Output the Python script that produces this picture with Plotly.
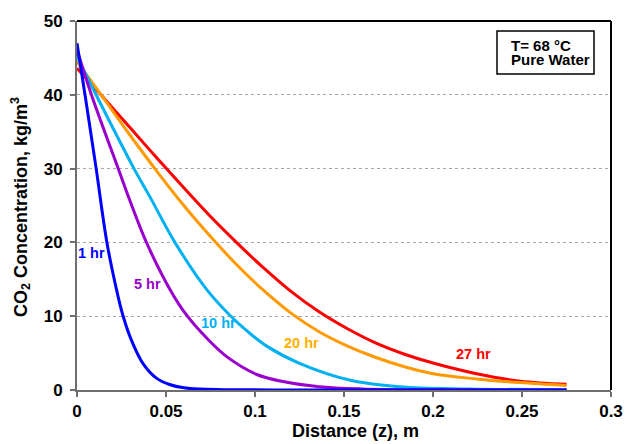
import plotly.graph_objects as go

# CO2 concentration profiles, distance z (m) vs concentration (kg/m3)
z_1hr = [0, 0.0045, 0.0107, 0.0168, 0.0222, 0.0258, 0.0305, 0.0370, 0.0448,
         0.0520, 0.0600, 0.0700, 0.0850, 0.110, 0.150, 0.200, 0.275]
c_1hr = [47.0, 40.0, 30.1, 20.0, 13.6, 10.1, 6.8, 3.62, 1.58,
         0.75, 0.30, 0.12, 0.04, 0.01, 0.0, 0.0, 0.0]

z_5hr = [0, 0.0081, 0.023, 0.0306, 0.039, 0.0523, 0.0617, 0.0738, 0.0841,
         0.101, 0.1157, 0.136, 0.160, 0.200, 0.275]
c_5hr = [46.1, 40.0, 30.1, 25.1, 20.0, 13.6, 10.1, 6.8, 4.52,
         2.1, 1.15, 0.45, 0.15, 0.03, 0.0]

z_10hr = [0, 0.0107, 0.0318, 0.0409, 0.055, 0.0729, 0.086, 0.096, 0.107,
          0.125, 0.153, 0.181, 0.220, 0.275]
c_10hr = [45.2, 40.0, 30.1, 26.2, 20.0, 13.6, 10.1, 7.9, 5.88,
          3.62, 1.36, 0.45, 0.15, 0.05]

z_20hr = [0, 0.015, 0.030, 0.045, 0.060, 0.075, 0.090, 0.105, 0.120, 0.136,
          0.152, 0.168, 0.184, 0.200, 0.2245, 0.249, 0.275]
c_20hr = [44.5, 39.5, 34.45, 29.6, 25.0, 20.8, 16.9, 13.45, 10.45, 7.9,
          5.95, 4.4, 3.15, 2.2, 1.5, 1.0, 0.6]

z_27hr = [0, 0.0134, 0.030, 0.045, 0.060, 0.075, 0.090, 0.105, 0.120, 0.136,
          0.152, 0.168, 0.184, 0.200, 0.2245, 0.249, 0.275]
c_27hr = [43.6, 40.0, 35.5, 31.4, 27.4, 23.5, 19.9, 16.5, 13.4, 10.6,
          8.3, 6.35, 4.85, 3.65, 2.2, 1.2, 0.77]

series_names = ["27 hr", "20 hr", "10 hr", "5 hr", "1 hr"]
series_z = [z_27hr, z_20hr, z_10hr, z_5hr, z_1hr]
series_c = [c_27hr, c_20hr, c_10hr, c_5hr, c_1hr]
line_colors = ["#FF0000", "#FF9900", "#00B0F0", "#9900CC", "#0000FF"]
label_colors = ["#FF0000", "#FFB000", "#00B0F0", "#9900CC", "#0000FF"]
label_x = [0.2230, 0.1263, 0.0796, 0.0397, 0.0083]
label_y = [4.9, 6.4, 9.1, 14.4, 18.6]

x_ticks = [0, 0.05, 0.1, 0.15, 0.2, 0.25, 0.3]
x_tick_text = ["0", "0.05", "0.1", "0.15", "0.2", "0.25", "0.3"]
y_ticks = [0, 10, 20, 30, 40, 50]

FONT = "Liberation Sans, Arial, sans-serif"

fig = go.Figure()
for name, zs, cs, col in zip(series_names, series_z, series_c, line_colors):
    fig.add_trace(go.Scatter(
        x=zs, y=cs, mode="lines", name=name,
        line=dict(color=col, width=3, shape="spline", smoothing=1.0),
        showlegend=False,
    ))

annotations = []
for name, lx, ly, col in zip(series_names, label_x, label_y, label_colors):
    annotations.append(dict(
        x=lx, y=ly, xref="x", yref="y", text=name, showarrow=False,
        xanchor="center", yanchor="middle",
        font=dict(family=FONT, size=14.5, color=col, weight="bold"),
    ))

# axis titles
annotations.append(dict(
    x=0.5206, y=-0.111, xref="paper", yref="paper",
    text="Distance (z), m", showarrow=False, xanchor="center", yanchor="middle",
    font=dict(family=FONT, size=18, color="#000000", weight="bold"),
))
annotations.append(dict(
    x=-0.1049, y=0.496, xref="paper", yref="paper", textangle=-90,
    text="CO<sub>2</sub> Concentration, kg/m<sup>3</sup>", showarrow=False,
    xanchor="center", yanchor="middle",
    font=dict(family=FONT, size=18, color="#000000", weight="bold"),
))

# condition box text
annotations.append(dict(
    x=(509 - 77) / 534, y=(390 - 45.5) / 369, xref="paper", yref="paper",
    text="T= 68 °C", showarrow=False, xanchor="left", yanchor="middle",
    font=dict(family=FONT, size=15, color="#000000", weight="bold"),
))
annotations.append(dict(
    x=(509 - 77) / 534, y=(390 - 59.5) / 369, xref="paper", yref="paper",
    text="Pure Water", showarrow=False, xanchor="left", yanchor="middle",
    font=dict(family=FONT, size=15, color="#000000", weight="bold"),
))

shapes = [
    # plot frame, top and right edges
    dict(type="line", xref="paper", yref="paper", x0=0, x1=1, y0=1, y1=1,
         line=dict(color="#000000", width=2)),
    dict(type="line", xref="paper", yref="paper", x0=1, x1=1, y0=0, y1=1,
         line=dict(color="#000000", width=2)),
    # condition box
    dict(type="rect", xref="paper", yref="paper",
         x0=(497 - 77) / 534, x1=(594 - 77) / 534,
         y0=(390 - 74) / 369, y1=(390 - 31) / 369,
         line=dict(color="#000000", width=1.5), fillcolor="rgba(255,255,255,0)"),
]

fig.update_layout(
    width=625, height=444,
    margin=dict(l=77, r=14, t=21, b=54, autoexpand=False),
    paper_bgcolor="#FFFFFF", plot_bgcolor="#FFFFFF",
    annotations=annotations, shapes=shapes,
    xaxis=dict(
        range=[0, 0.3], tickvals=x_ticks, ticktext=x_tick_text,
        automargin=False,
        showgrid=False, zeroline=False,
        showline=True, linecolor="#6E6E6E", linewidth=2,
        ticks="outside", ticklen=5, tickwidth=1.5, tickcolor="#6E6E6E",
        tickfont=dict(family=FONT, size=17, color="#000000", weight="bold"),
    ),
    yaxis=dict(
        range=[0, 50], tickvals=y_ticks,
        automargin=False,
        showgrid=True, gridcolor="#A6A6A6", gridwidth=1, griddash="dot",
        zeroline=False,
        showline=True, linecolor="#6E6E6E", linewidth=2,
        ticks="outside", ticklen=5, tickwidth=1.5, tickcolor="#6E6E6E",
        ticklabelstandoff=4,
        tickfont=dict(family=FONT, size=17, color="#000000", weight="bold"),
    ),
)

fig.write_html("out.html")
